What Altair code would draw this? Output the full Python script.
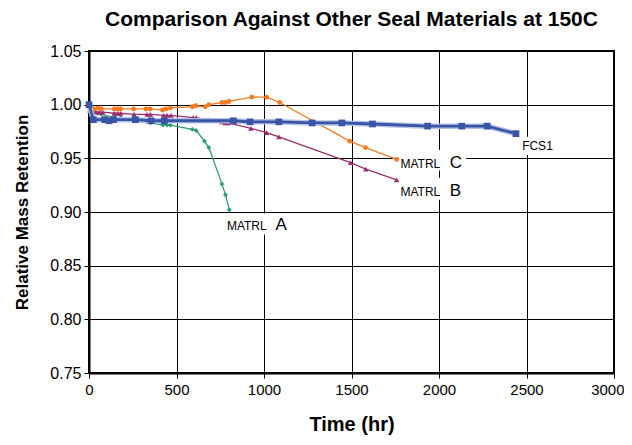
import altair as alt
import pandas as pd

# ---- data ----
fcs1_t = [0, 25, 90, 115, 140, 265, 355, 430, 825, 920, 1085, 1275, 1445, 1620, 1935, 2130, 2275, 2440]
fcs1_v = [1.000, 0.986, 0.986, 0.985, 0.986, 0.986, 0.985, 0.985, 0.985, 0.984, 0.984, 0.983, 0.983, 0.982, 0.980, 0.980, 0.980, 0.973]

matc_t = [0, 30, 50, 70, 145, 165, 180, 255, 325, 350, 420, 440, 465, 590, 610, 665, 685, 760, 780, 800, 930, 1015, 1090, 1490, 1580, 1758]
matc_v = [1.000, 0.996, 0.997, 0.996, 0.996, 0.996, 0.996, 0.996, 0.996, 0.996, 0.995, 0.996, 0.997, 0.998, 0.999, 0.998, 1.000, 1.002, 1.002, 1.003, 1.007, 1.007, 1.002, 0.966, 0.960, 0.949]

matb_t = [5, 21, 40, 59, 78, 144, 163, 181, 257, 332, 351, 427, 446, 469, 595, 612, 670, 685, 758, 777, 797, 925, 1015, 1085, 1495, 1582, 1758]
matb_v = [0.995, 0.993, 0.993, 0.993, 0.993, 0.992, 0.992, 0.992, 0.991, 0.991, 0.991, 0.990, 0.990, 0.990, 0.988, 0.988, 0.986, 0.986, 0.984, 0.983, 0.983, 0.978, 0.974, 0.970, 0.946, 0.940, 0.930]

mata_t = [0, 25, 50, 70, 145, 182, 255, 330, 352, 423, 446, 465, 590, 612, 660, 685, 760, 780, 802]
mata_v = [1.000, 0.994, 0.992, 0.991, 0.988, 0.988, 0.985, 0.984, 0.983, 0.981, 0.981, 0.981, 0.977, 0.976, 0.966, 0.960, 0.926, 0.916, 0.902]

x_ticks = [0, 500, 1000, 1500, 2000, 2500, 3000]
y_ticks = [0.75, 0.80, 0.85, 0.90, 0.95, 1.00, 1.05]

# labels: small word, big letter
lab_small = ["MATRL", "MATRL", "MATRL", "FCS1"]
lab_big = ["A", "C", "B", ""]
lab_t_small = [788, 1780, 1780, 2475]
lab_t_big = [1066, 2062, 2062, 2475]
lab_v = [0.883, 0.9407, 0.9152, 0.9577]
box_t1 = [770, 1768, 1768, 2462]
box_t2 = [1185, 2155, 2155, 2670]
box_v1 = [0.879, 0.9386, 0.9115, 0.953]
box_v2 = [0.8985, 0.958, 0.932, 0.970]

FONT = "Liberation Sans"

xs = alt.Scale(domain=[0, 3000], nice=False)
ys = alt.Scale(domain=[0.75, 1.05], nice=False, zero=False)

x_axis = alt.Axis(values=x_ticks, title="Time (hr)", format="d", grid=True, labelFlush=False,
                  labelFontSize=15, titleFontSize=20, titleFontWeight="bold",
                  titlePadding=17, labelPadding=4, tickSize=5,
                  labelAlign={"condition": {"test": "datum.value == 3000", "value": "right"}, "value": "center"},
                  labelOffset={"condition": {"test": "datum.value == 3000", "value": 10}, "value": 0})
y_axis = alt.Axis(values=y_ticks, title="Relative Mass Retention", format=".2f", grid=True,
                  labelFlush=False, labelFontSize=16, titleFontSize=17, titleFontWeight="bold",
                  titlePadding=18, labelPadding=3, tickSize=5)

boxes = pd.DataFrame({"t1": box_t1, "t2": box_t2, "v1": box_v1, "v2": box_v2})
rect = alt.Chart(boxes).mark_rect(color="white").encode(
    x=alt.X("t1:Q", scale=xs, axis=x_axis), x2="t2:Q",
    y=alt.Y("v1:Q", scale=ys, axis=y_axis), y2="v2:Q")

series = [
    ("MATRL A", mata_t, mata_v, "#2E9C6B", "diamond", 24, 1.3),
    ("MATRL B", matb_t, matb_v, "#9B2F6E", "triangle-up", 30, 1.3),
    ("MATRL C", matc_t, matc_v, "#F47A22", "circle", 24, 1.3),
]

layers = [rect]
for name, ts, vs, col, shp, sz, sw in series:
    df = pd.DataFrame({"t": ts, "v": vs})
    base = alt.Chart(df).encode(x=alt.X("t:Q", scale=xs), y=alt.Y("v:Q", scale=ys))
    layers.append(base.mark_line(color=col, strokeWidth=sw))
    layers.append(base.mark_point(color=col, shape=shp, filled=True, size=sz, opacity=1))

fdf = pd.DataFrame({"t": fcs1_t, "v": fcs1_v})
fbase = alt.Chart(fdf).encode(x=alt.X("t:Q", scale=xs), y=alt.Y("v:Q", scale=ys))
layers.append(fbase.mark_line(color="#B4C1E6", strokeWidth=5.5))
layers.append(fbase.mark_line(color="#3A55A5", strokeWidth=2.8))
layers.append(fbase.mark_point(color="#3A55A5", shape="square", filled=True, size=45, opacity=1))

ldf = pd.DataFrame({"ts": lab_t_small, "tb": lab_t_big, "v": lab_v, "s": lab_small, "b": lab_big})
small = alt.Chart(ldf).mark_text(align="left", baseline="alphabetic", fontSize=12, font=FONT, color="black").encode(
    x=alt.X("ts:Q", scale=xs), y=alt.Y("v:Q", scale=ys), text="s:N")
big = alt.Chart(ldf).mark_text(align="left", baseline="alphabetic", fontSize=17, font=FONT, color="black").encode(
    x=alt.X("tb:Q", scale=xs), y=alt.Y("v:Q", scale=ys), text="b:N")
layers += [small, big]

chart = alt.layer(*layers).properties(
    width=525, height=322,
    title=alt.Title("Comparison Against Other Seal Materials at 150C", fontSize=21,
                    fontWeight="bold", font=FONT, offset=13, anchor="middle"),
    autosize=alt.AutoSizeParams(type="none"),
    padding={"left": 81, "top": 43, "right": 10, "bottom": 64},
).configure_view(stroke="black", strokeWidth=2).configure_axis(
    labelFont=FONT, titleFont=FONT, labelColor="black", titleColor="black",
    gridColor="black", gridWidth=1, gridOpacity=1, domainColor="black", domainWidth=2,
    tickColor="black", tickWidth=1
)

chart.save("out.html", embed_options={"renderer": "svg", "actions": False})
